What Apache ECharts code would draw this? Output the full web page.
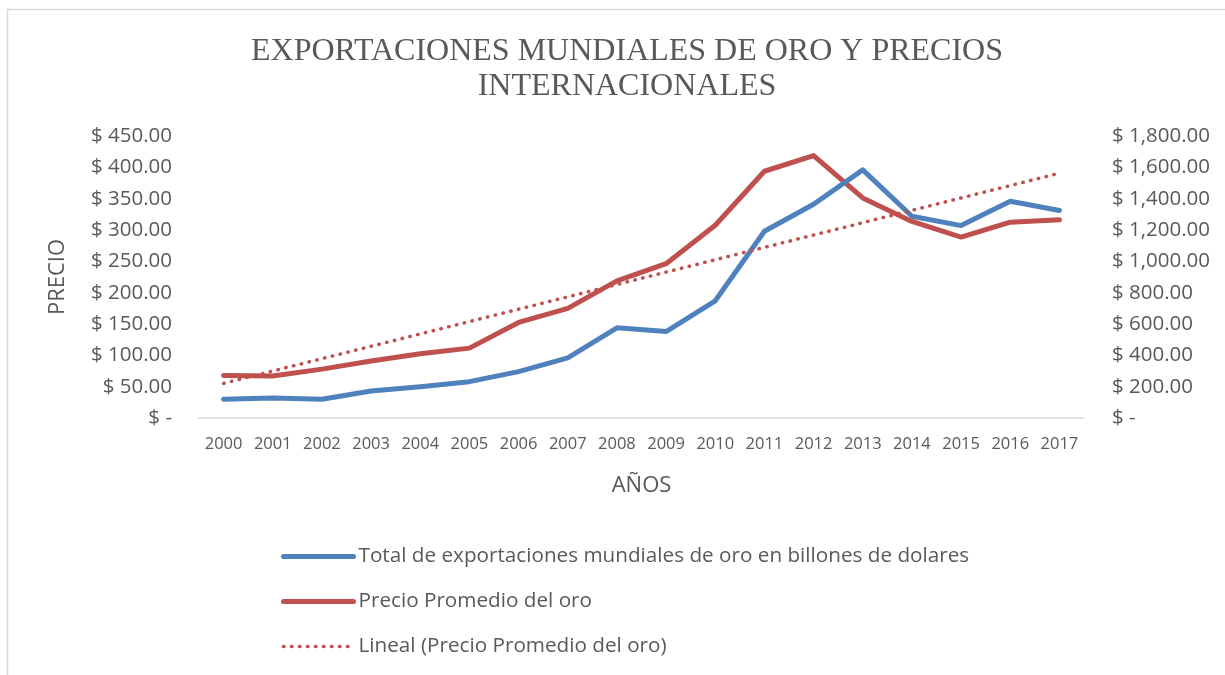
<!DOCTYPE html>
<html>
<head>
<meta charset="utf-8">
<script src="https://cdn.jsdelivr.net/npm/echarts@6/dist/echarts.min.js"></script>
<style>
  html, body { margin: 0; padding: 0; background: #fff; }
  #chart { width: 1225px; height: 675px; }
</style>
</head>
<body>
<div id="chart"></div>
<script>
// Data
var years = ['2000', '2001', '2002', '2003', '2004', '2005', '2006', '2007', '2008',
             '2009', '2010', '2011', '2012', '2013', '2014', '2015', '2016', '2017'];
// billions of dollars (left axis)
var exportsTotal = [30, 32, 30, 43, 50, 58, 74, 96, 144, 138, 187, 298, 341, 396, 322, 307, 346, 331];
// average gold price (right axis)
var goldPrice = [272, 268, 312, 364, 410, 446, 610, 700, 875, 985, 1230, 1575, 1675, 1405, 1255, 1155, 1250, 1265];
var leftTicks = { min: 0, max: 450, interval: 50 };
var rightTicks = { min: 0, max: 1800, interval: 200 };

// Linear trend of the price series (least squares, like the spreadsheet's "Lineal")
function linearTrend(vals) {
    var n = vals.length, sx = 0, sy = 0, sxy = 0, sxx = 0;
    vals.forEach(function (v, i) {
        var x = i + 1;
        sx += x; sy += v; sxy += x * v; sxx += x * x;
    });
    var b = (n * sxy - sx * sy) / (n * sxx - sx * sx);
    var a = (sy - b * sx) / n;
    return vals.map(function (v, i) { return +(a + b * (i + 1)).toFixed(2); });
}
var trend = linearTrend(goldPrice);

function money(v) {
    if (v === 0) return '$ -';
    return '$ ' + v.toLocaleString('en-US', { minimumFractionDigits: 2, maximumFractionDigits: 2 });
}

var labelFont = '"Open Sans", "Noto Sans", sans-serif';
var textGray = '#595959';

var chartDom = document.getElementById('chart');
var myChart = echarts.init(chartDom);
var option = {
    backgroundColor: '#fff',
    animation: false,
    title: {
        text: 'EXPORTACIONES MUNDIALES DE ORO Y PRECIOS\nINTERNACIONALES',
        left: 622,
        top: 29,
        textAlign: 'center',
        textStyle: {
            fontFamily: '"Liberation Serif", "DejaVu Serif", serif',
            fontSize: 32,
            fontWeight: 'normal',
            color: textGray,
            lineHeight: 35
        }
    },
    graphic: [{
        type: 'rect',
        shape: { x: 7.5, y: 9.5, width: 1300, height: 700 },
        style: { fill: 'none', stroke: '#d9d9d9', lineWidth: 1.5 },
        silent: true
    }],
    grid: { left: 199, right: 141, top: 136, bottom: 257, containLabel: false },
    legend: {
        orient: 'vertical',
        left: 276,
        top: 541,
        itemWidth: 70,
        itemHeight: 14,
        itemGap: 24,
        itemStyle: { opacity: 0 },
        lineStyle: { width: 'inherit', type: 'inherit', cap: 'inherit' },
        textStyle: { fontFamily: labelFont, fontSize: 20.7, color: textGray },
        data: [
            'Total de exportaciones mundiales de oro en billones de dolares',
            'Precio Promedio del oro',
            'Lineal (Precio Promedio del oro)'
        ]
    },
    xAxis: {
        type: 'category',
        data: years,
        name: 'AÑOS',
        nameLocation: 'middle',
        nameGap: 57,
        nameTextStyle: { fontFamily: labelFont, fontSize: 22, color: textGray },
        axisLine: { lineStyle: { color: '#d9d9d9', width: 1.5 } },
        axisTick: { show: false },
        axisLabel: { interval: 0, margin: 18, fontFamily: labelFont, fontSize: 16.5, color: textGray },
        splitLine: { show: false }
    },
    yAxis: [{
        type: 'value',
        min: leftTicks.min,
        max: leftTicks.max,
        interval: leftTicks.interval,
        name: 'PRECIO',
        nameLocation: 'middle',
        nameRotate: 90,
        nameGap: 130,
        nameTextStyle: { fontFamily: labelFont, fontSize: 22, color: textGray },
        axisLine: { show: false },
        axisTick: { show: false },
        splitLine: { show: false },
        axisLabel: { margin: 27, fontFamily: labelFont, fontSize: 20.5, color: textGray, formatter: money }
    }, {
        type: 'value',
        position: 'right',
        min: rightTicks.min,
        max: rightTicks.max,
        interval: rightTicks.interval,
        axisLine: { show: false },
        axisTick: { show: false },
        splitLine: { show: false },
        axisLabel: { margin: 28, fontFamily: labelFont, fontSize: 20.5, color: textGray, formatter: money }
    }],
    series: [{
        name: 'Total de exportaciones mundiales de oro en billones de dolares',
        type: 'line',
        yAxisIndex: 0,
        data: exportsTotal,
        symbol: 'none',
        color: '#4f81bd',
        lineStyle: { color: '#4f81bd', width: 5, cap: 'round', join: 'round' },
        z: 3
    }, {
        name: 'Precio Promedio del oro',
        type: 'line',
        yAxisIndex: 1,
        data: goldPrice,
        symbol: 'none',
        color: '#c0504d',
        lineStyle: { color: '#c0504d', width: 5, cap: 'round', join: 'round' },
        z: 2
    }, {
        name: 'Lineal (Precio Promedio del oro)',
        type: 'line',
        yAxisIndex: 1,
        data: trend,
        symbol: 'none',
        color: '#c0504d',
        lineStyle: { color: '#c0504d', width: 3.5, type: [0.5, 7.5], cap: 'round' },
        z: 4
    }]
};
option && myChart.setOption(option);
window.addEventListener('resize', function () {
    myChart.resize();
});
</script>
</body>
</html>
